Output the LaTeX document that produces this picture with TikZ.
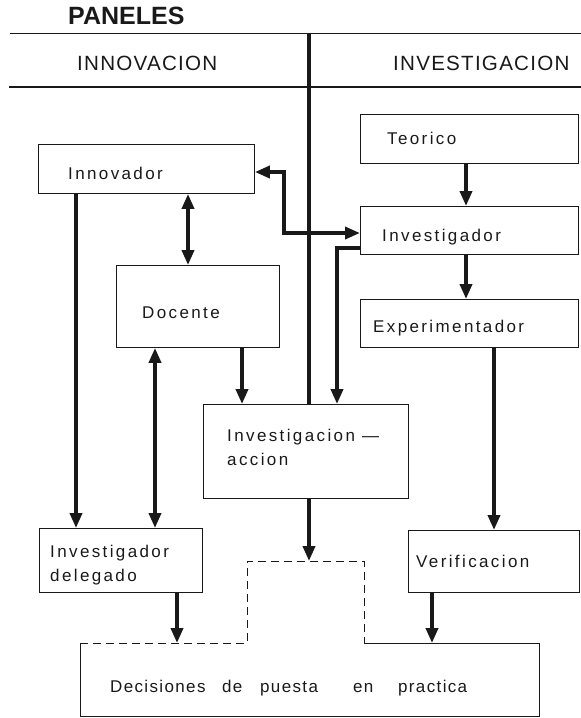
\documentclass[tikz,border=0pt]{standalone}
\usepackage{fontspec}
\setmainfont{Liberation Sans}
\newfontfamily\boxfont[LetterSpace=14]{Liberation Sans}
\newfontfamily\headfont[LetterSpace=6]{Liberation Sans}
\newfontfamily\decfont[LetterSpace=8]{Liberation Sans}
\usetikzlibrary{arrows.meta,calc}
\definecolor{ink}{RGB}{25,25,25}
\begin{document}
\begin{tikzpicture}[x=1pt,y=-1pt,
  >={Triangle[width=12pt,length=15pt]},
  box/.style={draw=ink, line width=0.9pt, inner sep=0pt, anchor=north west},
  lbl/.style={inner sep=0pt, anchor=base west, text=ink, font=\boxfont\fontsize{17}{24}\selectfont, align=left},
  head/.style={inner sep=0pt, anchor=base west, text=ink, font=\headfont\fontsize{20.6}{24}\selectfont},
  rule/.style={draw=ink, line width=1.2pt},
  flow/.style={draw=ink, line width=3.6pt, line cap=butt},
  axis/.style={draw=ink, line width=4pt},
  frame/.style={draw=ink, line width=0.9pt},
  dashframe/.style={draw=ink, line width=0.9pt, dash pattern=on 8pt off 5pt}
]
\useasboundingbox (0,0) rectangle (581,718);

% title and header
\node[inner sep=0pt, anchor=base west, text=ink, font=\bfseries\fontsize{25}{28}\selectfont] (title) at (68,24) {PANELES};
\coordinate (r1a) at (10,33.5);
\coordinate (r1b) at (581,33.5);
\coordinate (r2a) at (9,87);
\coordinate (r2b) at (581,87);
\draw[rule] (r1a) -- (r1b);
\draw[rule] (r2a) -- (r2b);
\node[head] (hinn) at (77,70) {INNOVACION};
\node[head] (hinv) at (393,70) {INVESTIGACION};

% boxes
\node[box, minimum width=218pt, minimum height=49pt] (teo) at (360,114) {};
\node[box, minimum width=216pt, minimum height=49pt] (innov) at (38,144) {};
\node[box, minimum width=218pt, minimum height=48pt] (inv) at (360,206) {};
\node[box, minimum width=163pt, minimum height=82pt] (doc) at (116,265) {};
\node[box, minimum width=218pt, minimum height=48pt] (exp) at (360,299) {};
\node[box, minimum width=205pt, minimum height=94pt] (ia) at (203,404) {};
\node[box, minimum width=163pt, minimum height=64pt] (del) at (39,528) {};
\node[box, minimum width=171pt, minimum height=62pt] (ver) at (408,530) {};

% box texts
\node[lbl] (teot) at (387,144) {Teorico};
\node[lbl] (innovt) at (68,179) {Innovador};
\node[lbl] (invt) at (382,241) {Investigador};
\node[lbl] (doct) at (142,318) {Docente};
\node[lbl] (expt) at (373,332) {Experimentador};
\node[lbl] (iat) at (227,465) {Investigacion —\\accion};
\node[lbl] (delt) at (50,581) {Investigador\\delegado};
\node[lbl] (vert) at (416,567) {Verificacion};

% decision box outline
\coordinate (d1) at (80,716);
\coordinate (d2) at (80,643);
\coordinate (d3) at (247,643);
\coordinate (d4) at (247,561);
\coordinate (d5) at (364,561);
\coordinate (d6) at (364,643);
\coordinate (d7) at (539,643);
\coordinate (d8) at (539,716);
\draw[dashframe] (d2) -- (d3) -- (d4) -- (d5) -- (d6);
\draw[frame] (d6) -- (d7) -- (d8) -- (d1) -- (d2);
\node[inner sep=0pt, anchor=base west, text=ink, font=\decfont\fontsize{17}{20}\selectfont] (dect) at (110,692)
  {\makebox[112pt][l]{Decisiones}\makebox[38pt][l]{de}\makebox[93pt][l]{puesta}\makebox[45pt][l]{en}practica};
\coordinate (dA) at (309,561);
\coordinate (dB) at (177,643);
\coordinate (dC) at (432,643);

% central axis
\coordinate (ctop) at (309,33);
\draw[axis] (ctop) -- ([xshift=106pt]ia.north west);

% connectors
\draw[flow,->] ([xshift=106pt]teo.south west) -- ([xshift=106pt]inv.north west);
\draw[flow,->] ([xshift=106pt]inv.south west) -- ([xshift=106pt]exp.north west);
\draw[flow,->] ([xshift=134pt]exp.south west) -- ([xshift=86pt]ver.north west);
\draw[flow,<->] ([xshift=150pt]innov.south west) -- ([xshift=72pt]doc.north west);
\draw[flow,->] ([xshift=38pt]innov.south west) -- ([xshift=37pt]del.north west);
\draw[flow,<->] ([xshift=39pt]doc.south west) -- ([xshift=116pt]del.north west);
\draw[flow,->] ([xshift=126pt]doc.south west) -- ([xshift=39pt]ia.north west);
\draw[flow,<->] ([yshift=-28pt]innov.north east) -- ++(29,0) |- ([yshift=-27pt]inv.north west);
\draw[flow,->] ([yshift=-42pt]inv.north west) -| ([xshift=134pt]ia.north west);
\draw[flow,->] ([xshift=106pt]ia.south west) -- (dA);
\draw[flow,->] ([xshift=138pt]del.south west) -- (dB);
\draw[flow,->] ([xshift=24pt]ver.south west) -- (dC);
\end{tikzpicture}
\end{document}
